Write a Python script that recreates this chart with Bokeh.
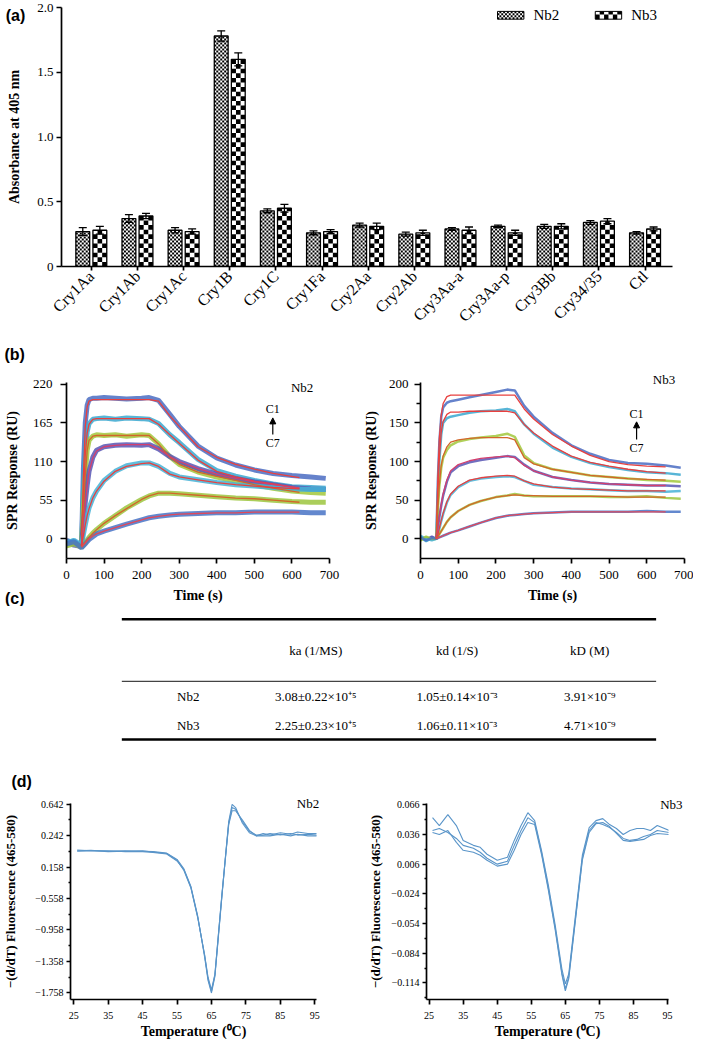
import math
from bokeh.plotting import figure
from bokeh.models import (Range1d, FixedTicker, Label, Whisker, TeeHead,
                          ColumnDataSource, Arrow, NormalHead)
from bokeh.layouts import column, row
from bokeh.core.properties import value
from bokeh.embed import file_html
from bokeh.resources import INLINE

SERIF = "Liberation Serif"
SANS = "Liberation Sans"

# ---------------- (a) ELISA data ----------------
categories = ["Cry1Aa", "Cry1Ab", "Cry1Ac", "Cry1B", "Cry1C", "Cry1Fa", "Cry2Aa",
              "Cry2Ab", "Cry3Aa-a", "Cry3Aa-p", "Cry3Bb", "Cry34/35", "Ctl"]
nb2_abs = [0.27, 0.37, 0.28, 1.78, 0.43, 0.26, 0.32, 0.25, 0.29, 0.31, 0.31, 0.34, 0.26]
nb2_err = [0.03, 0.03, 0.02, 0.04, 0.015, 0.015, 0.015, 0.015, 0.01, 0.01, 0.015, 0.015, 0.01]
nb3_abs = [0.28, 0.39, 0.27, 1.60, 0.45, 0.27, 0.31, 0.26, 0.28, 0.26, 0.31, 0.35, 0.29]
nb3_err = [0.03, 0.02, 0.02, 0.05, 0.03, 0.015, 0.025, 0.02, 0.025, 0.02, 0.02, 0.02, 0.015]
series_names = ["Nb2", "Nb3"]
a_yticks = [0, 0.5, 1.0, 1.5, 2.0]
a_ytick_labels = ["0", "0.5", "1.0", "1.5", "2.0"]

# ---------------- (b) SPR sensorgrams ----------------
nb2_t = [0, 20, 40, 45, 50, 55, 60, 70, 80, 100, 130, 160, 200, 220, 245, 275, 300, 350,
         400, 450, 500, 550, 600, 650, 690]
nb2_data = [
    [-2, -6, -10, 100, 165, 190, 198, 200, 200, 201, 200, 199, 200, 201, 197, 177, 160, 132, 115, 105, 98, 93, 90, 88, 86],
    [-5, -3, -12, 65, 125, 152, 164, 170, 171, 172, 170, 172, 171, 170, 164, 148, 137, 113, 97, 89, 83, 78, 74, 73, 72],
    [-8, -5, -10, 45, 92, 126, 140, 146, 148, 147, 148, 146, 148, 147, 135, 117, 106, 95, 88, 82, 77, 72, 68, 66, 65],
    [-4, -9, -11, 22, 52, 76, 96, 116, 126, 131, 133, 134, 133, 134, 128, 117, 110, 100, 92, 86, 81, 77, 73, 71, 70],
    [-6, -2, -9, 6, 20, 33, 44, 58, 68, 83, 96, 104, 108, 108, 103, 93, 88, 84, 80, 77, 75, 73, 71, 70, 70],
    [-10, -7, -12, -9, -6, -2, 2, 8, 13, 22, 33, 44, 56, 61, 65, 65, 64, 62, 60, 58, 57, 55, 53, 52, 52],
    [-7, -4, -13, -10, -7, -4, -1, 3, 7, 11, 16, 21, 27, 30, 32, 34, 35, 36, 37, 37, 38, 38, 38, 37, 37],
]
nb2_fit_t = [40, 45, 50, 55, 60, 70, 80, 100, 130, 160, 200, 220, 245, 275, 300, 350, 400, 450, 500, 550, 620]
nb2_fit = [
    [-10, 90, 160, 188, 196, 198, 198, 198, 198, 198, 198, 198, 196, 175, 160, 131, 116, 106, 99, 93, 87],
    [-10, 60, 120, 150, 163, 170, 171, 171, 171, 171, 171, 171, 163, 148, 136, 112, 96, 88, 82, 78, 72],
    [-10, 40, 90, 125, 140, 146, 147, 147, 147, 147, 147, 147, 135, 116, 106, 95, 89, 83, 77, 72, 66],
    [-10, 20, 50, 75, 95, 115, 125, 131, 133, 134, 134, 134, 128, 117, 110, 100, 92, 86, 81, 77, 72],
    [-10, 5, 20, 33, 43, 58, 68, 82, 96, 103, 107, 108, 103, 92, 88, 84, 80, 77, 75, 73, 71],
    [-11, -8, -5, -1, 2, 8, 13, 22, 33, 43, 56, 61, 65, 65, 64, 62, 60, 58, 57, 55, 52],
    [-12, -9, -6, -3, 0, 4, 7, 11, 16, 21, 27, 30, 32, 34, 35, 36, 37, 37, 38, 38, 38],
]
nb3_t = [0, 15, 30, 42, 46, 50, 55, 60, 70, 80, 100, 130, 160, 200, 230, 250, 275, 300, 350,
         400, 450, 500, 550, 600, 650, 690]
nb3_data = [
    [3, -2, 2, 0, 75, 125, 158, 170, 176, 178, 180, 183, 186, 190, 193, 192, 172, 158, 137, 121, 110, 102, 98, 97, 95, 92],
    [2, -3, 1, 0, 55, 100, 135, 150, 156, 158, 160, 163, 165, 166, 168, 165, 148, 136, 118, 106, 98, 93, 89, 86, 85, 83],
    [-2, 2, -1, 0, 38, 68, 92, 105, 115, 121, 126, 129, 131, 133, 136, 132, 108, 98, 90, 86, 82, 80, 78, 76, 75, 74],
    [1, -1, 3, 0, 14, 28, 43, 56, 74, 86, 94, 99, 102, 105, 107, 106, 96, 88, 80, 76, 73, 71, 70, 69, 69, 68],
    [4, 0, -2, 0, 5, 13, 23, 32, 47, 57, 67, 75, 78, 80, 81, 80, 75, 70, 67, 65, 64, 63, 62, 62, 61, 62],
    [-1, 3, 0, 0, 3, 6, 10, 14, 22, 28, 36, 44, 49, 54, 56, 58, 56, 55, 55, 55, 55, 54, 54, 55, 53, 52],
    [2, -2, 1, 0, 1, 2, 3, 4, 6, 8, 11, 16, 21, 27, 30, 31, 32, 33, 34, 35, 35, 35, 35, 36, 35, 35],
]
nb3_fit_t = [42, 46, 50, 55, 60, 70, 80, 100, 130, 160, 200, 230, 250, 275, 300, 350, 400, 450, 500, 550, 600, 650]
nb3_fit = [
    [0, 80, 130, 160, 175, 184, 186, 186, 186, 186, 186, 186, 186, 168, 155, 135, 120, 108, 100, 96, 94, 93],
    [0, 60, 105, 138, 152, 161, 164, 164, 165, 165, 165, 165, 163, 148, 137, 120, 107, 99, 94, 90, 87, 85],
    [0, 40, 70, 95, 107, 119, 125, 128, 130, 131, 131, 131, 128, 105, 97, 90, 86, 82, 80, 78, 77, 76],
    [0, 15, 30, 45, 58, 76, 88, 96, 101, 104, 106, 107, 105, 95, 88, 80, 76, 73, 71, 70, 69, 69],
    [0, 5, 14, 24, 33, 48, 58, 68, 76, 79, 81, 82, 81, 75, 71, 67, 65, 64, 63, 62, 62, 62],
    [0, 3, 6, 10, 14, 22, 28, 36, 44, 49, 54, 56, 57, 56, 56, 55, 55, 55, 55, 54, 54, 54],
    [0, 1, 2, 3, 4, 6, 8, 11, 16, 21, 27, 30, 31, 32, 33, 34, 35, 35, 35, 35, 35, 35],
]
b_xticks = [0, 100, 200, 300, 400, 500, 600, 700]
b_xtick_labels = ["0", "100", "200", "300", "400", "500", "600", "700"]
nb2_yticks = [0, 55, 110, 165, 220]
nb2_ytick_labels = ["0", "55", "110", "165", "220"]
nb3_yticks = [0, 50, 100, 150, 200]
nb3_ytick_labels = ["0", "50", "100", "150", "200"]
nb3_yminor = [25, 75, 125, 175]

# ---------------- (c) kinetics table ----------------
table_header = ["", "ka (1/MS)", "kd (1/S)", "kD (M)"]
table_rows = [
    ["Nb2", "3.08±0.22×10⁺⁵", "1.05±0.14×10⁻³", "3.91×10⁻⁹"],
    ["Nb3", "2.25±0.23×10⁺⁵", "1.06±0.11×10⁻³", "4.71×10⁻⁹"],
]

# ---------------- (d) melting curves ----------------
nb2_temp = [26, 30, 35, 40, 45, 48, 52, 55, 57, 59, 61, 63, 64, 65, 66, 67, 68, 69, 70, 71,
            72, 74, 76, 78, 80, 82, 85, 88, 90, 93, 96]
nb2_melt = [
    [0.06, 0.05, 0.045, 0.05, 0.045, 0.04, 0.02, -0.06, -0.18, -0.40, -0.78, -1.30, -1.60, -1.76, -1.55,
     -1.05, -0.55, -0.05, 0.42, 0.64, 0.60, 0.40, 0.28, 0.24, 0.27, 0.25, 0.28, 0.26, 0.29, 0.27, 0.27],
    [0.05, 0.055, 0.04, 0.045, 0.05, 0.035, 0.015, -0.07, -0.20, -0.42, -0.80, -1.27, -1.56, -1.72, -1.52,
     -1.02, -0.52, -0.06, 0.40, 0.60, 0.58, 0.42, 0.30, 0.25, 0.25, 0.27, 0.25, 0.27, 0.25, 0.26, 0.25],
    [0.045, 0.05, 0.05, 0.04, 0.04, 0.03, 0.01, -0.08, -0.19, -0.41, -0.79, -1.28, -1.58, -1.74, -1.53,
     -1.03, -0.53, -0.07, 0.38, 0.56, 0.56, 0.44, 0.31, 0.24, 0.24, 0.24, 0.26, 0.24, 0.26, 0.24, 0.24],
]
nb3_temp = [26, 28, 30.5, 33, 35, 38, 40, 42, 45, 48, 50, 52, 54, 56, 58, 60, 62, 64, 65, 66, 68,
            70, 72, 74, 76, 78, 80, 82, 84, 86, 88, 90, 92, 95.5]
nb3_melt = [
    [0.053, 0.045, 0.056, 0.045, 0.030, 0.025, 0.023, 0.016, 0.010, 0.013, 0.030, 0.045, 0.058, 0.050,
     0.020, -0.015, -0.055, -0.100, -0.115, -0.105, -0.045, 0.015, 0.043, 0.050, 0.052, 0.046, 0.042,
     0.036, 0.040, 0.042, 0.042, 0.040, 0.045, 0.040],
    [0.040, 0.042, 0.038, 0.032, 0.025, 0.022, 0.018, 0.012, 0.006, 0.009, 0.025, 0.040, 0.053, 0.048,
     0.018, -0.018, -0.058, -0.104, -0.120, -0.108, -0.048, 0.012, 0.040, 0.048, 0.046, 0.043, 0.038,
     0.032, 0.030, 0.031, 0.034, 0.036, 0.040, 0.038],
    [0.038, 0.036, 0.040, 0.028, 0.020, 0.018, 0.015, 0.010, 0.004, 0.006, 0.020, 0.036, 0.048, 0.046,
     0.016, -0.020, -0.060, -0.106, -0.122, -0.110, -0.050, 0.010, 0.038, 0.047, 0.048, 0.044, 0.037,
     0.030, 0.029, 0.030, 0.031, 0.035, 0.037, 0.036],
]
d_xticks = [25, 35, 45, 55, 65, 75, 85, 95]
d_xtick_labels = ["25", "35", "45", "55", "65", "75", "85", "95"]
nb2_dticks = [0.642, 0.242, -0.158, -0.558, -0.958, -1.358, -1.758]
nb2_dtick_labels = ["0.642", "0.242", "0.158", "−0.558", "−0.958", "−1.358", "−1.758"]
nb2_dminor = [0.442, 0.042, -0.358, -0.758, -1.158, -1.558]
nb3_dticks = [0.066, 0.036, 0.006, -0.024, -0.054, -0.084, -0.114]
nb3_dtick_labels = ["0.066", "0.036", "0.006", "−0.024", "−0.054", "−0.084", "−0.114"]
nb3_dminor = [0.051, 0.021, -0.009, -0.039, -0.069, -0.099, -0.129]

# ---------------- styling ----------------
SPR_COLORS = ["#4a6cc2", "#3aa8d0", "#a2c83c", "#5856b4", "#45b2d6", "#9cc53e", "#4873c6"]
FIT_COLORS = ["#e8403f", "#e8403f", "#d2662a", "#d43f6e", "#e8403f", "#d2662a", "#e0485a"]
MELT_COLOR = "#5a95c9"


def conv(r0, r1, d0, d1):
    return lambda r: d0 + (r - r0) * (d1 - d0) / (r1 - r0)


def base_fig(fw, fh, left, right, top, bottom, xr, yr):
    p = figure(frame_width=fw, frame_height=fh, min_border_left=left, min_border_right=right,
               min_border_top=top, min_border_bottom=bottom, x_range=xr, y_range=yr,
               output_backend="svg", toolbar_location=None)
    p.outline_line_color = None
    p.background_fill_color = "white"
    p.border_fill_color = "white"
    p.xgrid.visible = False
    p.ygrid.visible = False
    return p


def set_axis(ax, ticks, labels, minor=None, font_px=13, tick_out=5, lab_standoff=4,
             title="", title_px=14, title_standoff=6, lw=1.7):
    ax.ticker = FixedTicker(ticks=ticks, minor_ticks=minor or [])
    ax.major_label_overrides = dict(zip(ticks, labels))
    ax.axis_line_color = "black"
    ax.axis_line_width = lw
    ax.major_tick_line_color = "black"
    ax.major_tick_line_width = lw
    ax.minor_tick_line_color = "black"
    ax.minor_tick_line_width = lw
    ax.major_tick_in = 0
    ax.major_tick_out = tick_out
    ax.minor_tick_in = 0
    ax.minor_tick_out = max(2, tick_out - 2)
    ax.major_label_text_font = SERIF
    ax.major_label_text_font_size = f"{font_px}px"
    ax.major_label_text_color = "black"
    ax.major_label_standoff = lab_standoff
    ax.axis_label = title
    ax.axis_label_text_font = SERIF
    ax.axis_label_text_font_style = "bold"
    ax.axis_label_text_font_size = f"{title_px}px"
    ax.axis_label_text_color = "black"
    ax.axis_label_standoff = title_standoff


def add_label(p, text, x, y, size, font=SERIF, bold=False, side=None):
    """Label in data units; labels lying outside the frame go to a side panel
    (side-panel annotations are not clipped to the frame)."""
    lab = Label(x=x, y=y, text=text, text_font=font, text_font_size=f"{size}px",
                text_font_style="bold" if bold else "normal", text_color="black",
                text_align="center", text_baseline="middle")
    if side is None:
        p.add_layout(lab)
    else:
        p.add_layout(lab, side)


def checker(x0, x1, y0, y1, ncols, ch):
    """black cells of a checkerboard filling the box, ncols columns, rows of height ch"""
    cw = (x1 - x0) / ncols
    L, R, B, T = [], [], [], []
    r = 0
    while r * ch < y1 - y0 - 1e-9:
        for c in range(ncols):
            if (r + c) % 2 == 0:
                L.append(x0 + c * cw)
                R.append(x0 + (c + 1) * cw)
                B.append(y0 + r * ch)
                T.append(min(y0 + (r + 1) * ch, y1))
        r += 1
    return dict(left=L, right=R, bottom=B, top=T)


# ================= (a) =================
FA_W, FA_H = 611, 259
XA = (-0.646, 12.595)
pa = base_fig(FA_W, FA_H, 61, 21, 7, 64, Range1d(*XA), Range1d(0, 2.0))
idx = list(range(len(categories)))
px_y = FA_H / 2.0            # pixels per absorbance unit
BW, OFF = 0.30, 0.185
patterns = [(7, 2.0), (3, 4.6)]   # (columns per bar, cell height px): fine / coarse checker
ca_x = conv(62, 687, XA[0], XA[1])
ca_y = conv(270, 4, 0, 2.0)
legend_box_x = [(508, 535), (608, 635)]
for s, (vals, errs, sign) in enumerate([(nb2_abs, nb2_err, -1), (nb3_abs, nb3_err, 1)]):
    xs = [i + sign * OFF for i in idx]
    ncols, cell_px = patterns[s]
    ch = cell_px / px_y
    src = ColumnDataSource(dict(x=xs, top=vals, up=[v + e for v, e in zip(vals, errs)],
                                lo=[v - e for v, e in zip(vals, errs)]))
    pa.vbar(x="x", top="top", bottom=0, width=BW, source=src, fill_color="white", line_color=None)
    cells = {"left": [], "right": [], "bottom": [], "top": []}
    for x, v in zip(xs, vals):
        c = checker(x - BW / 2, x + BW / 2, 0, v, ncols, ch)
        for k in cells:
            cells[k] += c[k]
    pa.quad(source=ColumnDataSource(cells), left="left", right="right", bottom="bottom",
            top="top", fill_color="black", line_color=None)
    pa.vbar(x="x", top="top", bottom=0, width=BW, source=src, fill_color=None,
            line_color="black", line_width=1.3)
    pa.add_layout(Whisker(source=src, base="x", upper="up", lower="lo", line_width=1.3,
                          line_color="black", level="overlay",
                          upper_head=TeeHead(size=8, line_width=1.3, line_color="black"),
                          lower_head=TeeHead(size=8, line_width=1.3, line_color="black")))
    # legend swatch + text
    lx0, lx1 = legend_box_x[s]
    sw = checker(ca_x(lx0), ca_x(lx1), ca_y(16), ca_y(8), int(round((lx1 - lx0) / cell_px)),
                 cell_px / px_y)
    pa.quad(left=[ca_x(lx0)], right=[ca_x(lx1)], bottom=[ca_y(16)], top=[ca_y(8)],
            fill_color="white", line_color=None)
    pa.quad(source=ColumnDataSource(sw), left="left", right="right", bottom="bottom", top="top",
            fill_color="black", line_color=None)
    pa.quad(left=[ca_x(lx0)], right=[ca_x(lx1)], bottom=[ca_y(16)], top=[ca_y(8)],
            fill_color=None, line_color="black", line_width=1.0)
    add_label(pa, series_names[s], ca_x(lx1 + 23), ca_y(12), 15)

set_axis(pa.yaxis[0], a_yticks, a_ytick_labels, font_px=13, tick_out=5, lab_standoff=3,
         title="Absorbance at 405 nm", title_px=14, title_standoff=12)
set_axis(pa.xaxis[0], idx, categories, font_px=16, tick_out=4, lab_standoff=3)
pa.xaxis[0].major_label_orientation = math.pi / 4
add_label(pa, "(a)", ca_x(15), ca_y(12), 16, font=SANS, bold=True, side="right")


# ================= (b) =================
def spr_fig(fw, left, right, yr, t, data, fit_t, fits, lw_data):
    p = base_fig(fw, 176, left, right, 49, 48, Range1d(0, 700), yr)
    for i in range(len(data)):
        p.line(t, data[i], line_color=SPR_COLORS[i], line_width=lw_data, line_alpha=0.85)
    for i in range(len(fits)):
        p.line(fit_t, fits[i], line_color=FIT_COLORS[i], line_width=1.3)
    set_axis(p.xaxis[0], b_xticks, b_xtick_labels, font_px=13, tick_out=5, lab_standoff=7,
             title="Time (s)", title_px=14, title_standoff=6)
    return p


pb1 = spr_fig(263, 66, 23, Range1d(-28, 222.4), nb2_t, nb2_data, nb2_fit_t, nb2_fit, 5)
set_axis(pb1.yaxis[0], nb2_yticks, nb2_ytick_labels, font_px=13, tick_out=6, lab_standoff=8,
         title="SPR Response (RU)", title_px=14, title_standoff=10)
pb2 = spr_fig(264, 68, 9, Range1d(-25.4, 202.2), nb3_t, nb3_data, nb3_fit_t, nb3_fit, 2.5)
set_axis(pb2.yaxis[0], nb3_yticks, nb3_ytick_labels, minor=nb3_yminor, font_px=13, tick_out=6,
         lab_standoff=6, title="SPR Response (RU)", title_px=14, title_standoff=7)

cb1x, cb1y = conv(68, 337, 0, 700), conv(544, 386.7, 0, 220)
add_label(pb1, "(b)", cb1x(15), cb1y(357), 16, font=SANS, bold=True, side="above")
add_label(pb1, "(c)", cb1x(15), cb1y(605), 16, font=SANS, bold=True, side="right")
add_label(pb1, "Nb2", cb1x(309), cb1y(390), 13)
add_label(pb1, "C1", cb1x(279), cb1y(412), 12)
add_label(pb1, "C7", cb1x(279), cb1y(447), 12)
pb1.add_layout(Arrow(x_start=cb1x(279), y_start=cb1y(438), x_end=cb1x(279), y_end=cb1y(421),
                     line_width=1.2, end=NormalHead(size=6, fill_color="black", line_color="black")))
cb2x, cb2y = conv(430, 700, 0, 700), conv(544, 386.7, 0, 200)
add_label(pb2, "Nb3", cb2x(679), cb2y(382), 13, side="above")
add_label(pb2, "C1", cb2x(651), cb2y(417), 12)
add_label(pb2, "C7", cb2x(651), cb2y(452), 12)
pb2.add_layout(Arrow(x_start=cb2x(651), y_start=cb2y(443), x_end=cb2x(651), y_end=cb2y(425),
                     line_width=1.2, end=NormalHead(size=6, fill_color="black", line_color="black")))

# ================= (c) =================
FC_H = 155
pc = figure(width=693, height=FC_H, min_border=0, x_range=Range1d(0, 709),
            y_range=Range1d(612 + FC_H / 0.9848, 612), x_axis_type=None, y_axis_type=None,
            output_backend="svg", toolbar_location=None)
pc.outline_line_color = None
pc.xgrid.visible = False
pc.ygrid.visible = False
rule_y = [625, 688, 747]
pc.segment(x0=[70, 70, 70], y0=rule_y, x1=[690, 690, 690], y1=rule_y,
           line_width=[2.6, 1.4, 2.6], line_color=["black", "#444444", "black"])
col_x = [147, 295, 459, 613]
row_y = [703, 733]
pc.text(x=col_x, y=[657] * 4, text=table_header, text_font=value(SERIF),
        text_font_size="13px", text_align="center", text_baseline="middle", text_color="black")
for r, yy in zip(table_rows, row_y):
    pc.text(x=col_x, y=[yy] * 4, text=r, text_font=value(SERIF), text_font_size="13px",
            text_align="center", text_baseline="middle", text_color="black")


# ================= (d) =================
def melt_fig(fw, left, right, xr, yr, temp, reps):
    p = base_fig(fw, 196, left, right, 42, 43, xr, yr)
    for rep in reps:
        p.line(temp, rep, line_color=MELT_COLOR, line_width=1.1)
    set_axis(p.xaxis[0], d_xticks, d_xtick_labels, font_px=10, tick_out=5, lab_standoff=7,
             title="Temperature (⁰C)", title_px=14, title_standoff=2)
    return p


pd1 = melt_fig(246, 63, 43, Range1d(24.06, 95.5), Range1d(-1.843, 0.652), nb2_temp, nb2_melt)
set_axis(pd1.yaxis[0], nb2_dticks, nb2_dtick_labels, minor=nb2_dminor, font_px=10, tick_out=4,
         lab_standoff=3, title="−(d/dT) Fluorescence (465-580)", title_px=13, title_standoff=14)
pd2 = melt_fig(242, 67, 32, Range1d(24.23, 95.3), Range1d(-0.1308, 0.0673), nb3_temp, nb3_melt)
set_axis(pd2.yaxis[0], nb3_dticks, nb3_dtick_labels, minor=nb3_dminor, font_px=10, tick_out=4,
         lab_standoff=3, title="−(d/dT) Fluorescence (465-580)", title_px=13, title_standoff=5)
cd1x, cd1y = conv(68.3, 315, 25, 95), conv(814, 997.7, 0.642, -1.758)
add_label(pd1, "(d)", cd1x(15), cd1y(792), 16, font=SANS, bold=True, side="above")
add_label(pd1, "Nb2", cd1x(308), cd1y(813), 13, side="right")
cd2x, cd2y = conv(431, 675, 25, 95), conv(813.3, 995.7, 0.066, -0.114)
add_label(pd2, "Nb3", cd2x(679), cd2y(813), 13, side="right")

layout = column(pa, row(pb1, pb2), pc, row(pd1, pd2))
open("out.html", "w").write(file_html(layout, INLINE))
